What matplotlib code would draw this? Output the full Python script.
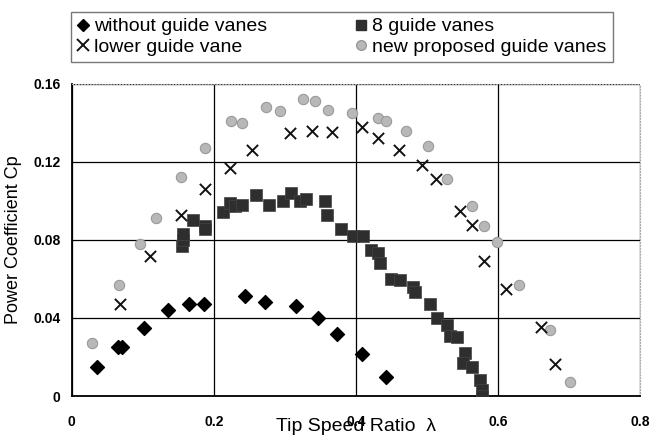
import matplotlib.pyplot as plt
from matplotlib.lines import Line2D

plt.rcParams['font.family'] = ['Liberation Sans', 'DejaVu Sans']

# ---- data ----
no_vane_x = [0.036, 0.065, 0.070, 0.102, 0.135, 0.165, 0.186, 0.244, 0.272, 0.315, 0.346, 0.374, 0.408, 0.443]
no_vane_y = [0.015, 0.025, 0.025, 0.035, 0.044, 0.047, 0.047, 0.051, 0.048, 0.046, 0.040, 0.032, 0.0215, 0.010]

lower_x = [0.068, 0.110, 0.154, 0.187, 0.223, 0.254, 0.307, 0.338, 0.367, 0.409, 0.431, 0.461,
           0.493, 0.513, 0.546, 0.563, 0.580, 0.612, 0.661, 0.680]
lower_y = [0.047, 0.072, 0.093, 0.106, 0.117, 0.126, 0.135, 0.136, 0.1355, 0.138, 0.132, 0.126,
           0.1185, 0.111, 0.095, 0.0877, 0.069, 0.055, 0.0355, 0.0164]

eight_x = [0.155, 0.157, 0.156, 0.171, 0.187, 0.187, 0.213, 0.223, 0.230, 0.239, 0.260, 0.278,
           0.297, 0.309, 0.321, 0.330, 0.356, 0.359, 0.379, 0.396, 0.410, 0.422, 0.431, 0.434,
           0.450, 0.462, 0.481, 0.483, 0.504, 0.514, 0.528, 0.532, 0.542, 0.553, 0.551, 0.563,
           0.575, 0.577, 0.577]
eight_y = [0.077, 0.080, 0.083, 0.090, 0.087, 0.0855, 0.0945, 0.099, 0.0975, 0.098, 0.103, 0.098,
           0.100, 0.104, 0.0997, 0.101, 0.100, 0.093, 0.0856, 0.082, 0.082, 0.075, 0.0735, 0.068,
           0.060, 0.0595, 0.056, 0.0535, 0.047, 0.040, 0.0364, 0.031, 0.030, 0.022, 0.017, 0.015,
           0.008, 0.003, 0.0]

new_x = [0.029, 0.067, 0.096, 0.118, 0.154, 0.187, 0.224, 0.240, 0.274, 0.293, 0.326, 0.342,
         0.361, 0.395, 0.431, 0.443, 0.471, 0.502, 0.529, 0.564, 0.580, 0.599, 0.630, 0.673, 0.701]
new_y = [0.0273, 0.057, 0.078, 0.091, 0.112, 0.127, 0.141, 0.140, 0.148, 0.146, 0.152, 0.151,
         0.1467, 0.145, 0.1424, 0.1407, 0.136, 0.128, 0.111, 0.0975, 0.087, 0.079, 0.057, 0.034, 0.0073]

x_ticks = [0, 0.2, 0.4, 0.6, 0.8]
x_tick_labels = ["0", "0.2", "0.4", "0.6", "0.8"]
y_ticks = [0, 0.04, 0.08, 0.12, 0.16]
y_tick_labels = ["0", "0.04", "0.08", "0.12", "0.16"]

# ---- figure ----
fig = plt.figure(figsize=(6.59, 4.41), dpi=100)
ax = fig.add_axes([0.109, 0.102, 0.862, 0.708])

ax.scatter(new_x, new_y, marker="o", s=55, facecolor="#b8b8b8", edgecolor="#999999",
           linewidth=0.8, zorder=3)
ax.scatter(eight_x, eight_y, marker="s", s=75, facecolor="#2e2e2e", edgecolor="#444444",
           linewidth=0.5, zorder=4)
ax.scatter(lower_x, lower_y, marker="x", s=65, color="#111111", linewidth=1.4, zorder=5)
ax.scatter(no_vane_x, no_vane_y, marker="D", s=50, color="black", zorder=5)

ax.set_xlim(0, 0.8)
ax.set_ylim(0, 0.16)
ax.set_xticks(x_ticks)
ax.set_xticklabels(x_tick_labels, fontweight="bold", fontsize=10)
ax.set_yticks(y_ticks)
ax.set_yticklabels(y_tick_labels, fontweight="bold", fontsize=10)
ax.tick_params(length=0)
ax.tick_params(axis="x", pad=14)
ax.tick_params(axis="y", pad=8)

ax.grid(True, color="black", linewidth=0.9)
ax.set_axisbelow(True)
for side in ["left", "bottom"]:
    ax.spines[side].set_linewidth(1.3)
for side in ["top", "right"]:
    ax.spines[side].set_color("#aaaaaa")
    ax.spines[side].set_linestyle(":")

ax.set_xlabel("Tip Speed Ratio  λ", fontsize=14, labelpad=-8)
ax.set_ylabel("Power Coefficient Cp", fontsize=13, labelpad=8)

handles = [
    Line2D([], [], marker="D", color="black", linestyle="none", markersize=6),
    Line2D([], [], marker="x", color="#111111", linestyle="none", markersize=8, markeredgewidth=1.4),
    Line2D([], [], marker="s", color="#2e2e2e", linestyle="none", markersize=7),
    Line2D([], [], marker="o", markerfacecolor="#b8b8b8", markeredgecolor="#999999",
           linestyle="none", markersize=7),
]
labels = ["without guide vanes", "lower guide vane", "8 guide vanes", "new proposed guide vanes"]
fig.legend(handles, labels, ncol=2, loc="upper left", bbox_to_anchor=(0.093, 0.995),
           frameon=True, fancybox=False, edgecolor="#555555", fontsize=14,
           handlelength=0.6, handletextpad=0.3, columnspacing=4.5, labelspacing=0.15,
           borderpad=0.3)

plt.savefig("out.png", dpi=100)
